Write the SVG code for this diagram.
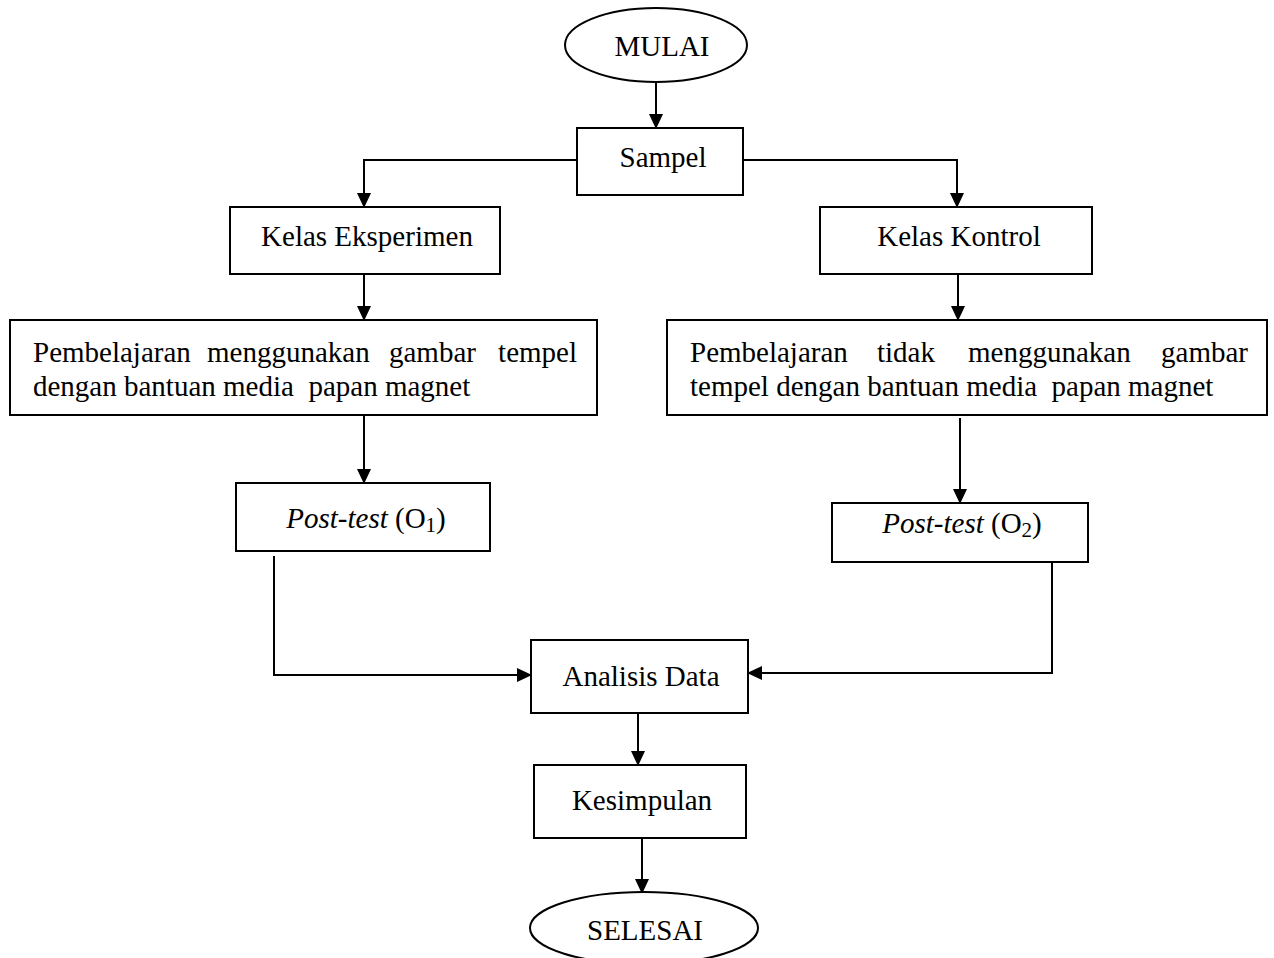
<svg xmlns="http://www.w3.org/2000/svg" width="1274" height="958" viewBox="0 0 1274 958">
<style>
.box{fill:#fff;stroke:#000;stroke-width:2}
.t{font-family:"Liberation Serif","Times New Roman",serif;font-size:29px;fill:#000}
.c{text-anchor:middle}
.ln{fill:none;stroke:#000;stroke-width:2}
</style>
<defs>
<marker id="ah" markerUnits="userSpaceOnUse" markerWidth="15" markerHeight="14" refX="14" refY="7" orient="auto">
<path d="M0,0 L15,7 L0,14 z" fill="#000"/>
</marker>
</defs>
<rect width="1274" height="958" fill="#fff"/>
<g id="connectors">
<path class="ln" d="M656,82 V128" marker-end="url(#ah)"/>
<path class="ln" d="M577,160 H364 V207" marker-end="url(#ah)"/>
<path class="ln" d="M743,160 H957 V207" marker-end="url(#ah)"/>
<path class="ln" d="M364,274 V320" marker-end="url(#ah)"/>
<path class="ln" d="M958,274 V320" marker-end="url(#ah)"/>
<path class="ln" d="M364,416 V483" marker-end="url(#ah)"/>
<path class="ln" d="M960,418 V503" marker-end="url(#ah)"/>
<path class="ln" d="M274,556 V675 H531" marker-end="url(#ah)"/>
<path class="ln" d="M1052,562 V673 H748" marker-end="url(#ah)"/>
<path class="ln" d="M638,713 V765" marker-end="url(#ah)"/>
<path class="ln" d="M642,838 V893" marker-end="url(#ah)"/>
</g>
<g id="mulai">
<ellipse class="box" cx="656" cy="45" rx="91" ry="37"/>
<text class="t c" x="662" y="56">MULAI</text>
</g>
<g id="sampel">
<rect class="box" x="577" y="128" width="166" height="67"/>
<text class="t c" x="663" y="167">Sampel</text>
</g>
<g id="kelas-eksperimen">
<rect class="box" x="230" y="207" width="270" height="67"/>
<text class="t c" x="367" y="246">Kelas Eksperimen</text>
</g>
<g id="kelas-kontrol">
<rect class="box" x="820" y="207" width="272" height="67"/>
<text class="t c" x="959" y="246">Kelas Kontrol</text>
</g>
<g id="pembelajaran-eksperimen">
<rect class="box" x="10" y="320" width="587" height="95"/>
<text class="t" y="362"><tspan x="33">Pembelajaran</tspan><tspan x="207">menggunakan</tspan><tspan x="389">gambar</tspan><tspan x="577" text-anchor="end">tempel</tspan></text>
<text class="t" x="33" y="396" xml:space="preserve">dengan bantuan media  papan magnet</text>
</g>
<g id="pembelajaran-kontrol">
<rect class="box" x="667" y="320" width="600" height="95"/>
<text class="t" y="362"><tspan x="690">Pembelajaran</tspan><tspan x="877">tidak</tspan><tspan x="968">menggunakan</tspan><tspan x="1248" text-anchor="end">gambar</tspan></text>
<text class="t" x="690" y="396" xml:space="preserve">tempel dengan bantuan media  papan magnet</text>
</g>
<g id="posttest-1">
<rect class="box" x="236" y="483" width="254" height="68"/>
<text class="t c" x="366" y="528"><tspan font-style="italic">Post-test</tspan> (O<tspan font-size="21" dy="4">1</tspan><tspan dy="-4">)</tspan></text>
</g>
<g id="posttest-2">
<rect class="box" x="832" y="503" width="256" height="59"/>
<text class="t c" x="962" y="533"><tspan font-style="italic">Post-test</tspan> (O<tspan font-size="21" dy="4">2</tspan><tspan dy="-4">)</tspan></text>
</g>
<g id="analisis-data">
<rect class="box" x="531" y="640" width="217" height="73"/>
<text class="t c" x="641" y="686">Analisis Data</text>
</g>
<g id="kesimpulan">
<rect class="box" x="534" y="765" width="212" height="73"/>
<text class="t c" x="642" y="810">Kesimpulan</text>
</g>
<g id="selesai">
<ellipse class="box" cx="644" cy="928" rx="114" ry="36"/>
<text class="t c" x="645" y="940">SELESAI</text>
</g>
</svg>
